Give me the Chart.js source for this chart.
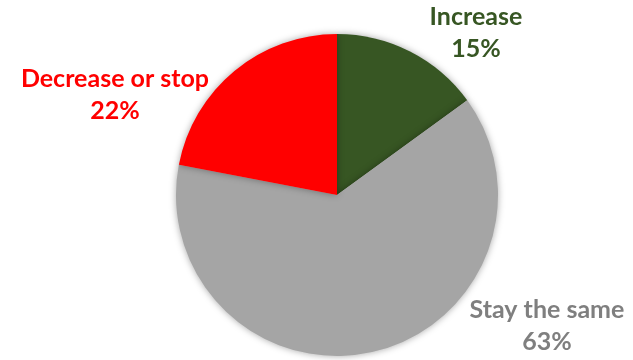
<!DOCTYPE html>
<html>
<head>
<meta charset="utf-8">
<script src="https://cdn.jsdelivr.net/npm/chart.js@4"></script>
<style>
html,body{margin:0;padding:0;background:#fff;}
#wrap{width:633px;height:360px;position:relative;}
</style>
</head>
<body>
<div id="wrap"><canvas id="c" width="633" height="360"></canvas></div>
<script>
const categories = ["Increase", "Stay the same", "Decrease or stop"];
const values = [15, 63, 22];
const sliceColors = ["#375623", "#A5A5A5", "#FF0000"];
const labelColors = ["#375623", "#7F7F7F", "#FF0000"];

// label anchor offsets relative to pie centre, in units of radius (first-line baseline)
const labelPos = [
  {dx: 0.863, dy: -1.056},
  {dx: 1.304, dy: 0.764},
  {dx: -1.379, dy: -0.671}
];

const shadowPlugin = {
  id: 'shadow',
  beforeDatasetDraw(chart) {
    const ctx = chart.ctx;
    ctx.save();
    ctx.shadowColor = 'rgba(0,0,0,0.35)';
    ctx.shadowBlur = 7;
    ctx.shadowOffsetX = 0;
    ctx.shadowOffsetY = 0;
  },
  afterDatasetDraw(chart) {
    chart.ctx.restore();
  }
};

const labelPlugin = {
  id: 'pieLabels',
  afterDraw(chart) {
    const ctx = chart.ctx;
    const meta = chart.getDatasetMeta(0);
    const arc = meta.data[0];
    const cx = arc.x, cy = arc.y, r = arc.outerRadius;
    const total = values.reduce((a, b) => a + b, 0);
    ctx.save();
    ctx.font = 'bold 25px Lato, "Open Sans", sans-serif';
    ctx.textAlign = 'center';
    ctx.textBaseline = 'alphabetic';
    categories.forEach((cat, i) => {
      const p = labelPos[i];
      const x = cx + p.dx * r;
      const y = cy + p.dy * r;
      ctx.fillStyle = labelColors[i];
      ctx.fillText(cat, x, y);
      ctx.fillText(Math.round(values[i] / total * 100) + '%', x, y + 32);
    });
    ctx.restore();
  }
};

new Chart(document.getElementById('c'), {
  type: 'pie',
  data: {
    labels: categories,
    datasets: [{
      data: values,
      backgroundColor: sliceColors,
      borderWidth: 0,
      hoverOffset: 0
    }]
  },
  options: {
    responsive: false,
    animation: false,
    layout: { padding: { top: 34, bottom: 4, left: 41, right: 0 } },
    plugins: {
      legend: { display: false },
      tooltip: { enabled: false }
    }
  },
  plugins: [shadowPlugin, labelPlugin]
});
</script>
</body>
</html>
